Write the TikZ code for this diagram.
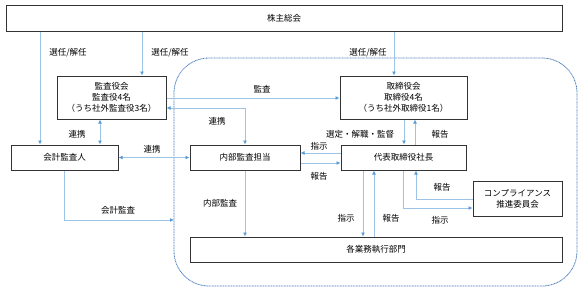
\documentclass[tikz,border=0pt]{standalone}
\usepackage{fontspec}
\setmainfont{Noto Sans CJK JP}
\usetikzlibrary{arrows.meta}
\definecolor{lineb}{HTML}{9DC3E6}
\definecolor{tipb}{HTML}{5B9BD5}
\definecolor{dashb}{HTML}{4A7EBB}
\definecolor{boxk}{HTML}{333333}
\begin{document}
\begin{tikzpicture}[x=1pt,y=-1pt,
  box/.style={draw=boxk, line width=1pt, fill=white, inner sep=0pt, align=center, font=\fontsize{8.5}{11}\selectfont},
  arr/.style={draw=lineb, line width=1pt, -{Latex[length=4pt,width=4pt,color=tipb]}},
  darr/.style={draw=lineb, line width=1pt, {Latex[length=4pt,width=4pt,color=tipb]}-{Latex[length=4pt,width=4pt,color=tipb]}},
  lab/.style={font=\fontsize{8.5}{10}\selectfont, inner sep=0pt}]
\useasboundingbox (0,0) rectangle (588,295);
\draw[dashb, dash pattern=on 1pt off 0.6pt, line width=0.8pt, rounded corners=35pt] (174,58) rectangle (577,286);

\node[box, minimum width=556pt, minimum height=26pt] (sh) at (284,18) {株主総会};
\node[box, minimum width=109pt, minimum height=43pt] (kansa) at (111.5,97.5) {監査役会\\監査役4名\\（うち社外監査役3名）};
\node[box, minimum width=107pt, minimum height=25pt] (kaikei) at (64.5,157.5) {会計監査人};
\node[box, minimum width=110pt, minimum height=25pt] (naibu) at (245,157.5) {内部監査担当};
\node[box, minimum width=127pt, minimum height=43pt] (tori) at (403.5,97.5) {取締役会\\取締役4名\\（うち社外取締役1名）};
\node[box, minimum width=125pt, minimum height=25pt] (daihyo) at (403.5,157.5) {代表取締役社長};
\node[box, minimum width=89pt, minimum height=35pt] (comp) at (517.5,198.5) {コンプライアンス\\推進委員会};
\node[box, minimum width=372pt, minimum height=25pt] (kaku) at (376,249.5) {各業務執行部門};

\coordinate (xa) at (40,0);
\coordinate (xb) at (142,0);
\coordinate (xc) at (394,0);
\coordinate (xd) at (100,0);
\coordinate (y1) at (0,98);
\coordinate (y2) at (0,108);
\coordinate (bnd) at (174,220);
\coordinate (xe) at (404,0);
\coordinate (xf) at (415,0);
\coordinate (yg) at (0,153);
\coordinate (yh) at (0,163);
\coordinate (xi) at (363,0);
\coordinate (xj) at (374,0);
\coordinate (xk) at (416,0);
\coordinate (pp) at (403,208);

\draw[arr] (sh.south -| xa) -- (kaikei.north -| xa);
\draw[arr] (sh.south -| xb) -- (kansa.north -| xb);
\draw[arr] (sh.south -| xc) -- (tori.north -| xc);
\draw[darr] (kansa.south -| xd) -- (kaikei.north -| xd);
\draw[arr] (kansa.east |- y1) -- (tori.west |- y1);
\draw[darr] (kansa.east |- y2) -| (naibu.north);
\draw[darr] (kaikei.east) -- (naibu.west);
\draw[arr] (kaikei.south) |- (bnd);
\draw[arr] (naibu.south) -- (naibu.south |- kaku.north);
\draw[arr] (tori.south -| xe) -- (daihyo.north -| xe);
\draw[arr] (daihyo.north -| xf) -- (tori.south -| xf);
\draw[arr] (daihyo.west |- yg) -- (naibu.east |- yg);
\draw[arr] (naibu.east |- yh) -- (daihyo.west |- yh);
\draw[arr] (daihyo.south -| xi) -- (kaku.north -| xi);
\draw[arr] (kaku.north -| xj) -- (daihyo.south -| xj);
\draw[arr] (comp.west |- 0,199) -| (daihyo.south -| xk);
\draw[arr] (daihyo.south -| pp) |- (comp.west |- pp);

\node[lab] (l1) at (68,53) {選任/解任};
\node[lab] (l2) at (170,53) {選任/解任};
\node[lab] (l3) at (368,53) {選任/解任};
\node[lab] (l4) at (77,134) {連携};
\node[lab] (l5) at (262,89) {監査};
\node[lab] (l6) at (217,121) {連携};
\node[lab] (l7) at (152,149) {連携};
\node[lab] (l8) at (118,210) {会計監査};
\node[lab] (l9) at (220,203) {内部監査};
\node[lab] (l10) at (360,134) {選定・解職・監督};
\node[lab] (l11) at (440,134) {報告};
\node[lab] (l12) at (319,146) {指示};
\node[lab] (l13) at (319,176) {報告};
\node[lab] (l14) at (346,218) {指示};
\node[lab] (l15) at (391,218) {報告};
\node[lab] (l16) at (442,187) {報告};
\node[lab] (l17) at (440,220) {指示};
\end{tikzpicture}
\end{document}
